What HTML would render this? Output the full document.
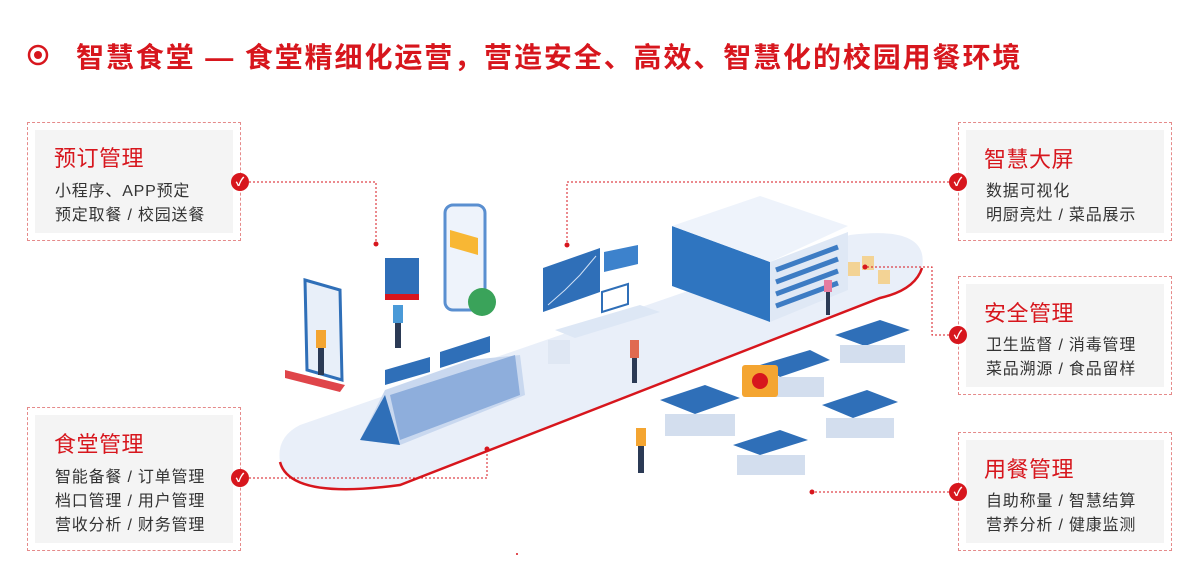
<!DOCTYPE html>
<html><head><meta charset="utf-8"><style>
body{margin:0;width:1186px;height:574px;background:#fff;position:relative;overflow:hidden;font-family:"Liberation Sans","Noto Sans CJK SC",sans-serif}
.title{position:absolute;left:76px;top:36px;font-size:28px;font-weight:bold;color:#d7161d;letter-spacing:1.9px;white-space:nowrap}
.box{position:absolute;border:1px dashed #e58a8a;width:212px;height:117px}
.in{position:absolute;left:7px;top:7px;right:7px;bottom:7px;background:#f4f4f4}
.h{position:absolute;left:18px;top:12px;font-size:22px;color:#d7161d;letter-spacing:0.5px}
.t{position:absolute;left:20px;font-size:16px;color:#333;white-space:nowrap;letter-spacing:0.8px}
.ck{position:absolute;width:18px;height:18px;border-radius:50%;background:#d7161d;color:#fff;font-size:12px;line-height:18px;text-align:center;font-weight:bold}
</style></head><body>
<svg width="1186" height="574" style="position:absolute;left:0;top:0">
<circle cx="38" cy="55" r="9" fill="none" stroke="#d7161d" stroke-width="2.5"/><circle cx="38" cy="55" r="4" fill="#d7161d"/>
<path d="M300,425 L850,235 Q930,225 922,268 Q915,290 880,298 L400,485 Q290,500 280,462 Q276,437 300,425 Z" fill="#e9eff9"/>
<path d="M922,268 Q915,290 880,298 L400,485 Q290,500 280,462" fill="none" stroke="#d7161d" stroke-width="2.5"/>
<polygon points="672,226 770,262 770,322 672,286" fill="#2f75c0"/>
<polygon points="672,226 760,196 848,226 770,262" fill="#eef3fb"/>
<polygon points="770,262 848,232 848,290 770,322" fill="#dfe8f5"/>
<g stroke="#3d7cc4" stroke-width="5"><line x1="776" y1="270" x2="838" y2="247"/><line x1="776" y1="282" x2="838" y2="259"/><line x1="776" y1="294" x2="838" y2="271"/><line x1="776" y1="306" x2="838" y2="283"/></g>
<polygon points="543,268 600,248 600,292 543,312" fill="#2f6fb8"/><polyline points="548,305 565,290 580,275 596,256" stroke="#cfe0f5" fill="none"/>
<polygon points="604,252 638,245 638,264 604,272" fill="#3d82cc"/>
<polygon points="602,292 628,284 628,304 602,312" fill="#fff" stroke="#2f6fb8" stroke-width="2"/>
<polygon points="555,330 640,305 660,312 575,338" fill="#dde7f5"/>
<rect x="548" y="340" width="22" height="24" fill="#dfe7f3"/>
<polygon points="360,440 385,390 470,360 520,355 525,395 400,445" fill="#c9d8ef"/>
<polygon points="390,395 515,355 520,395 400,440" fill="#8eaedc"/>
<polygon points="360,440 385,395 400,445" fill="#2f6fb8"/>
<polygon points="385,370 430,357 430,372 385,385" fill="#2f6fb8"/>
<polygon points="440,352 490,336 490,352 440,368" fill="#2f6fb8"/>
<polygon points="305,280 340,290 342,380 307,370" fill="#e8eff9" stroke="#2f6fb8" stroke-width="3"/>
<polygon points="285,370 345,385 340,392 285,378" fill="#d7161d" opacity=".8"/>
<rect x="445" y="205" width="40" height="105" rx="8" fill="#eef3fb" stroke="#5a8fd0" stroke-width="3"/>
<polygon points="450,230 478,238 478,255 450,247" fill="#f8b734"/>
<circle cx="482" cy="302" r="14" fill="#3aa35a"/>
<rect x="385" y="258" width="34" height="36" fill="#2f6fb8"/><polygon points="385,294 419,294 419,300 385,300" fill="#d7161d"/>
<g fill="#2b3a55"><rect x="395" y="320" width="6" height="28"/><rect x="318" y="345" width="6" height="30"/><rect x="632" y="355" width="5" height="28"/><rect x="638" y="445" width="6" height="28"/><rect x="826" y="290" width="4" height="25"/></g>
<rect x="393" y="305" width="10" height="18" fill="#4a9ad8"/><rect x="316" y="330" width="10" height="18" fill="#f4a531"/><rect x="630" y="340" width="9" height="18" fill="#e06a50"/><rect x="636" y="428" width="10" height="18" fill="#f4a531"/><rect x="824" y="280" width="8" height="12" fill="#e67ca0"/>
<rect x="848" y="262" width="12" height="14" fill="#f3d395"/><rect x="862" y="256" width="12" height="14" fill="#f3d395"/><rect x="878" y="270" width="12" height="14" fill="#f3d395"/>
<g fill="#2f6fb8">
<polygon points="835,335 880,320 910,330 865,346"/>
<polygon points="760,365 810,350 830,360 780,377"/>
<polygon points="660,400 705,385 740,398 695,414"/>
<polygon points="822,405 867,390 898,402 853,418"/>
<polygon points="733,445 780,430 808,440 760,455"/>
</g>
<g fill="#d3deee"><rect x="840" y="345" width="65" height="18"/><rect x="665" y="414" width="70" height="22"/><rect x="826" y="418" width="68" height="20"/><rect x="737" y="455" width="68" height="20"/><rect x="762" y="377" width="62" height="20"/></g>
<rect x="742" y="365" width="36" height="32" rx="3" fill="#f4a531"/><circle cx="760" cy="381" r="8" fill="#d7161d"/>
<g stroke="#d7161d" stroke-width="1" stroke-dasharray="2,2" fill="none">
<polyline points="249,182 376,182 376,243"/>
<polyline points="949,182 567,182 567,245"/>
<polyline points="949,335 932,335 932,267 865,267"/>
<polyline points="949,492 812,492"/>
<polyline points="249,478 487,478 487,450"/>
</g>
<g fill="#d7161d"><circle cx="376" cy="244" r="2.5"/><circle cx="567" cy="245" r="2.5"/><circle cx="865" cy="267" r="2.5"/><circle cx="812" cy="492" r="2.5"/><circle cx="487" cy="449" r="2.5"/><circle cx="517" cy="554" r="1"/></g>
</svg>
<div class="title">智慧食堂 — 食堂精细化运营，营造安全、高效、智慧化的校园用餐环境</div>

<div class="box" style="left:27px;top:122px"><div class="in"></div><div class="h" style="left:26px;top:18px">预订管理</div><div class="t" style="left:27px;top:54px">小程序、APP预定</div><div class="t" style="left:27px;top:78px">预定取餐 / 校园送餐</div></div>
<div class="box" style="left:27px;top:407px;height:142px"><div class="in"></div><div class="h" style="left:26px;top:19px">食堂管理</div><div class="t" style="left:27px;top:55px">智能备餐 / 订单管理</div><div class="t" style="left:27px;top:79px">档口管理 / 用户管理</div><div class="t" style="left:27px;top:103px">营收分析 / 财务管理</div></div>
<div class="box" style="left:958px;top:122px"><div class="in"></div><div class="h" style="left:25px;top:19px">智慧大屏</div><div class="t" style="left:27px;top:54px">数据可视化</div><div class="t" style="left:27px;top:78px">明厨亮灶 / 菜品展示</div></div>
<div class="box" style="left:958px;top:276px"><div class="in"></div><div class="h" style="left:25px;top:19px">安全管理</div><div class="t" style="left:27px;top:54px">卫生监督 / 消毒管理</div><div class="t" style="left:27px;top:78px">菜品溯源 / 食品留样</div></div>
<div class="box" style="left:958px;top:432px"><div class="in"></div><div class="h" style="left:25px;top:19px">用餐管理</div><div class="t" style="left:27px;top:54px">自助称量 / 智慧结算</div><div class="t" style="left:27px;top:78px">营养分析 / 健康监测</div></div>

<div class="ck" style="left:231px;top:173px">✓</div>
<div class="ck" style="left:231px;top:469px">✓</div>
<div class="ck" style="left:949px;top:173px">✓</div>
<div class="ck" style="left:949px;top:326px">✓</div>
<div class="ck" style="left:949px;top:483px">✓</div>
</body></html>
